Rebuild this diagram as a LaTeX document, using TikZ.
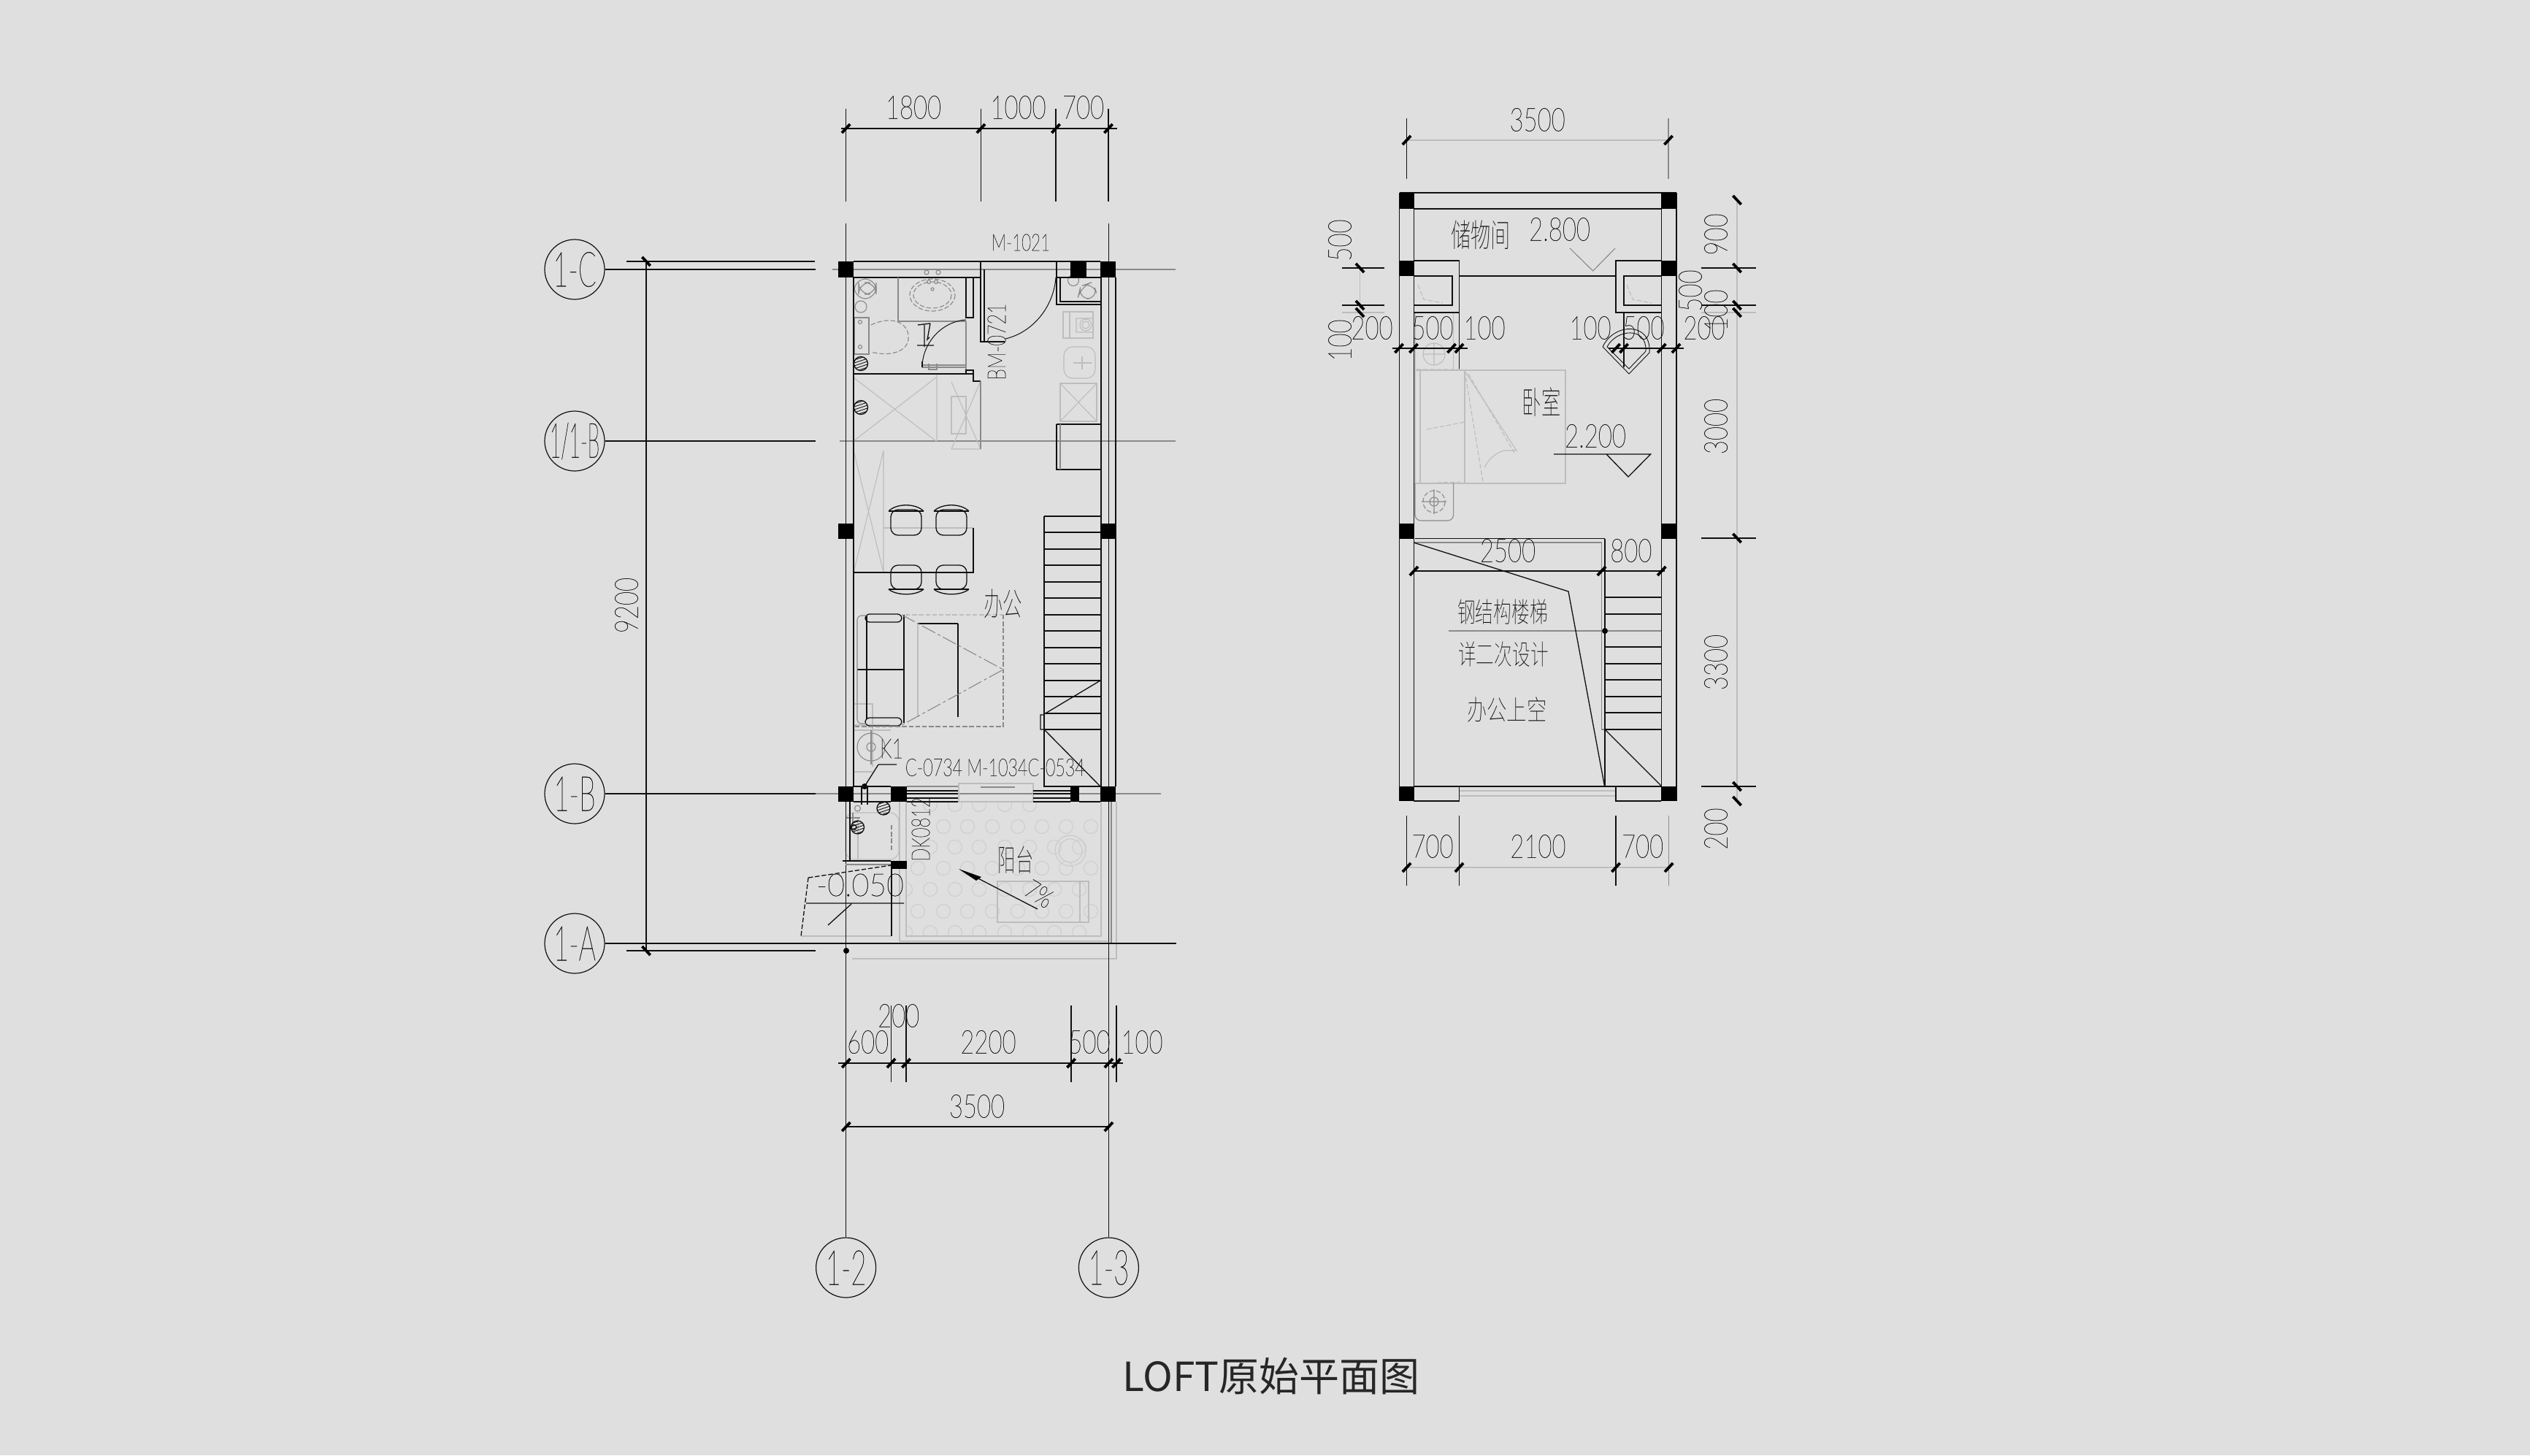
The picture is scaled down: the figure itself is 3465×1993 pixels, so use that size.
\documentclass[tikz,border=0pt]{standalone}
\usepackage{fontspec}
\usepackage{graphicx}
\IfFontExistsTF{Lato Thin}{\newfontfamily\cad[FakeBold=0.5]{Lato Thin}}{\newfontfamily\cad{Lato Light}}
\IfFontExistsTF{Noto Sans CJK SC Thin}{\newfontfamily\cjk{Noto Sans CJK SC Thin}}{\IfFontExistsTF{Noto Sans CJK SC Light}{\newfontfamily\cjk{Noto Sans CJK SC Light}}{\newfontfamily\cjk{Noto Sans CJK SC}}}
\newfontfamily\ttl{Noto Sans CJK SC}
\definecolor{bgc}{HTML}{DFDFDF}
\definecolor{ink}{HTML}{101010}
\definecolor{mid}{HTML}{8A8A8A}
\definecolor{pale}{HTML}{BDBDBD}
\definecolor{faint}{HTML}{CFCFCF}
\tikzset{
  ln/.style={draw=ink,line width=.33pt},
  wl/.style={draw=ink,line width=.5pt},
  gr/.style={draw=mid,line width=.28pt},
  pl/.style={draw=pale,line width=.28pt},
  fa/.style={draw=faint,line width=.3pt},
  fine/.style={dash pattern=on 1.6pt off .7pt},
  col/.style={fill=black,draw=none},
  tickline/.style={draw=black,line width=.95pt},
  bub/.style={circle,draw=ink,line width=.3pt,minimum size=20.5pt,inner sep=0pt},
  txt/.style={inner sep=0pt,text=ink,font=\cad},
}
\newcounter{tn}
\newcommand{\lab}[6]{\stepcounter{tn}\node[txt,rotate=#1] (t\thetn) at (#2,#3) {\fontsize{#4}{#4}\selectfont\scalebox{#5}[1]{#6}};}
\newcommand{\dm}[3]{\lab{0}{#1}{#2}{11.1}{.74}{#3}}
\newcommand{\dv}[3]{\lab{90}{#1}{#2}{11.1}{.74}{#3}}
\newcommand{\tkh}[2]{\draw[tickline] ([shift={(-5.6,6)}]#1,#2) -- ([shift={(5.6,-6)}]#1,#2);}
\newcommand{\tkv}[2]{\draw[tickline] ([shift={(-5.6,-6)}]#1,#2) -- ([shift={(5.6,6)}]#1,#2);}
\newcommand{\colm}[4]{\fill[col] (#1,#2) rectangle (#3,#4);}
\newcommand{\hatchc}[3]{\begin{scope}\clip (#1,#2) circle (#3);\foreach \d in {-8,-4,0,4,8}{\draw[draw=ink,line width=.22pt] ([shift={(-12,\d+4)}]#1,#2) -- ([shift={(12,\d-4)}]#1,#2);}\end{scope}\draw[ln] (#1,#2) circle (#3);}
\newcommand{\chairup}[2]{\draw[ln,rounded corners=2.5pt] (#1,#2) rectangle ++(42,35);\draw[ln] (#1-3,#2+2) .. controls (#1+8,#2-9) and (#1+34,#2-9) .. (#1+45,#2+2);\draw[ln] (#1-3,#2+2)--(#1+45,#2+2);}
\newcommand{\chairdn}[2]{\draw[ln,rounded corners=2.5pt] (#1,#2) rectangle ++(42,33);\draw[ln] (#1-3,#2+33) .. controls (#1+8,#2+42) and (#1+34,#2+42) .. (#1+45,#2+33);\draw[ln] (#1-3,#2+33)--(#1+45,#2+33);}
\begin{document}
\begin{tikzpicture}[x=.25pt,y=-.25pt]
\useasboundingbox (0,0) rectangle (3465,1993);
\fill[bgc] (0,0) rectangle (3465,1993);

%% --------- balcony pale floor ----------
\begin{scope}
\clip (1241,1098) rectangle (1508,1282);
\foreach \yy in {1160,1218,1277}{\foreach \xx in {1274,1308,1341,1376,1410,1444,1478}{\draw[fa] (\xx,\yy) circle (9.5);}}
\foreach \xx in {1274,1308,1341,1376,1410}{\draw[fa] (\xx,1102) circle (9.5);}
\foreach \xx in {1240}{\draw[fa] (\xx,1218) circle (9.5);\draw[fa] (\xx,1277) circle (9.5);}
\foreach \yy in {1189,1248}{\foreach \xx in {1257,1292,1325,1359,1394,1427,1460,1494}{\draw[fa] (\xx,\yy) circle (9.5);}}
\foreach \xx in {1292,1325,1359,1394,1427,1460,1494}{\draw[fa] (\xx,1132) circle (9.5);}
\end{scope}
\draw[pl] (1232,1098) -- (1232,1289) -- (1517,1289);
\draw[pl] (1241,1098) -- (1241,1282) -- (1508,1282) -- (1508,1098);
\draw[pl] (1167,1313) -- (1529,1313) -- (1529,1098);
\draw[pl] (1097,1282) -- (1221,1282);
\draw[faint,line width=.4pt] (1466,1165) circle (21) (1466,1165) circle (16);
\draw[pl] (1366,1207) rectangle (1491,1263) (1479,1207) -- (1479,1263);
\draw[gr] (1522,1098) -- (1522,1293);
%% balcony laundry
\draw[pl,rounded corners=3pt] (1158,1113) rectangle (1231,1177);
\draw[pl] (1175,1120) -- (1175,1177);
\draw[gr,fine] (1221,1130) -- (1221,1165);
\draw[gr] (1159,1120) -- (1178,1120) (1168,1113) -- (1168,1130);
\draw[gr] (1174.5,1107) circle (4);

%% --------- left plan grid lines -------------
\node[bub] (bC) at (787,369) {};
\node[bub] (bAB) at (787,604) {};
\node[bub] (bB) at (787,1087) {};
\node[bub] (bA) at (787,1292) {};
\node[bub] (b2) at (1158.6,1736) {};
\node[bub] (b3) at (1518.4,1736) {};
\coordinate (eC) at (1117,369); \coordinate (eAB) at (1117,604); \coordinate (eB) at (1117,1087);
\draw[ln] (bC) -- (eC); \draw[ln] (bAB) -- (eAB); \draw[ln] (bB) -- (eB);
\draw[ln] (bA) -- (1611,1292);
\draw[gr] (1140,369) -- (1610,369);
\draw[gr] (1150,604) -- (1610,604);
\draw[gr] (1117,1087) -- (1590,1087);
\draw[ln] (b2) -- (1158.6,306);
\draw[ln] (b3) -- (1518.4,306);

%% pale furniture left plan (kitchen etc.)
\draw[pl] (1456,427) rectangle (1497,463) (1465,427) -- (1465,463);
\draw[pl] (1474,436) rectangle (1497,455) (1487,445) circle (5) (1487,445) circle (8);
\draw[pl,rounded corners=3pt] (1457,475) rectangle (1500,518);
\draw[pl] (1470,497) -- (1495,497) (1482,488) -- (1482,506);
\draw[pl] (1452,525) rectangle (1502,577);
\draw[pl] (1452,525) -- (1502,577) (1502,525) -- (1452,577);
\draw[pl] (1169,517) -- (1282,604) (1282,517) -- (1169,604) (1283,512) -- (1283,604);
\draw[pl] (1169,617) -- (1210,784) (1210,617) -- (1169,784) (1210,617) -- (1210,784);
\draw[pl] (1210,723) -- (1333,723);
\draw[pl] (1303,523) -- (1343,615) (1343,522) -- (1303,615) (1303,615) -- (1343,615);
\draw[pl] (1303,543) rectangle (1323,594);
\draw[pl] (1257,854) -- (1257,982);
\draw[pl] (1169,964) -- (1195,964) -- (1195,1050) (1169,1000) -- (1220,1000) (1169,1057) -- (1195,1057);
\draw[pl] (1169,993) -- (1219,993);
\draw[gr,rounded corners=4pt] (1170,382) rectangle (1200,409);
\draw[gr,rounded corners=4pt] (1176,387) -- (1176,403) -- (1200,403) -- (1200,387) -- cycle;
\draw[gr] (1179,420) circle (8);
\draw[gr] (1170,435) rectangle (1190,485);
\draw[gr] (1178,441) circle (2.5) (1178,475) circle (2.5);
\draw[gr,fine] (1193,445) .. controls (1225,430) and (1245,445) .. (1244,462) .. controls (1245,478) and (1225,490) .. (1193,482);
\draw[gr,fine] (1277,404) ellipse (31 and 22) (1277,404) ellipse (26 and 18);
\draw[gr] (1272,386) circle (2.5) (1282,386) circle (2.5) (1277,396) circle (2);
\draw[gr] (1269,373) circle (3) (1285,373) circle (3);
\draw[gr] (1470,384) circle (7.5);
\draw[gr,rounded corners=4pt] (1476,409) -- (1480,392) -- (1497,386) -- (1504,409) -- cycle;
%% --------- left plan walls --------------------
\draw[wl] (1169,380) -- (1169,1077);
\draw[wl] (1507.5,380) -- (1507.5,1077);
\draw[ln] (1528,380) -- (1528,1077);
\draw[wl] (1169,358) -- (1343,358) -- (1343,380) -- (1169,380);
\draw[ln] (1343,358) -- (1447,358) -- (1447,380);
\draw[ln] (1447,358) -- (1507,358) (1447,380) -- (1507,380);
\draw[wl] (1447,380) -- (1447,417) -- (1507,417);
\draw[ln] (1452,380) -- (1452,413) -- (1507,413);
\draw[ln] (1343,380) -- (1343,468) -- (1376,468) (1348,369) -- (1348,468);
\draw[draw=ink,line width=.25pt] (1377,464) .. controls (1415,455) and (1443,420) .. (1446,380);
\draw[gr] (1230,380) -- (1230,440) -- (1323,440);
\draw[wl] (1323,380) -- (1323,435) -- (1333,435) -- (1333,380);
\draw[gr] (1323,440) -- (1323,507);
\draw[draw=ink,line width=.25pt] (1323,438) .. controls (1290,440) and (1263,470) .. (1263,503);
\draw[gr] (1263,503) -- (1323,503) (1263,500) -- (1323,500);
\draw[ln] (1263,503) -- (1263,495);
\draw[ln] (1257,445) -- (1274,443) (1256,473) -- (1279,473) (1266,445) -- (1266,475) (1274,443) -- (1270,465) -- (1273,462);
\draw[gr] (1272,498) -- (1272,506) -- (1283,506) -- (1283,498);
\draw[ln] (1169,512) -- (1333,512);
\draw[wl] (1323,512) -- (1323,507) -- (1333,507) -- (1333,522) -- (1343,522);
\draw[gr] (1343,522) -- (1343,615);
\draw[ln] (1447,581) -- (1507,581) (1447,581) -- (1447,643) -- (1507,643);
\draw[gr] (1452,581) -- (1452,643);
%% dining
\draw[ln] (1169,784) -- (1333,784) -- (1333,723);
\chairup{1220}{698} \chairup{1282}{698}
\chairdn{1220}{774} \chairdn{1282}{774}
%% stairs
\draw[ln] (1430,707) -- (1507,707) (1430,707) -- (1430,1077) -- (1507,1077);
\foreach \yy in {729,752,774,797,819,842,864,887,909,932,954,977,999}{\draw[ln] (1430,\yy) -- (1507,\yy);}
\draw[ln] (1430,979) -- (1425,979) -- (1425,999) -- (1430,999) -- (1507,1077);
\draw[ln] (1430,978) -- (1507,932);
%% sofa
\draw[ln] (1187,842) -- (1187,985) (1238,842) -- (1238,990) (1174,917) -- (1238,917);
\draw[ln,rounded corners=1.5pt] (1185,841) rectangle (1235,852);
\draw[ln,rounded corners=1.5pt] (1185,983) rectangle (1235,994);
\draw[gr,rounded corners=1.5pt] (1187,843) -- (1174,843) -- (1174,991) -- (1187,991);
\draw[ln] (1257,854) -- (1312,854);
\draw[ln] (1312,854) -- (1312,982);
\draw[gr,dash pattern=on 5pt off 1pt on 1pt off 1pt] (1235,842) -- (1374,917) -- (1235,993);
\draw[pl,fine] (1240,842) -- (1374,842);
\draw[gr,fine] (1374,842) -- (1374,995) -- (1170,995);
%% air-con
\draw[gr] (1193,1023) circle (19) (1193,1023) circle (6);
\draw[gr] (1193,1000) -- (1193,1047);
\draw[ln] (1203,1047) -- (1228,1047) (1203,1047) -- (1184,1077);
\fill[black] (1184,1077) circle (4);
%% bottom wall
\draw[wl] (1169,1077) -- (1220,1077) (1169,1098) -- (1220,1098);
\draw[gr] (1242,1077) -- (1313,1077);
\draw[ln] (1242,1083) -- (1313,1083) (1242,1087) -- (1313,1087) (1242,1093) -- (1313,1093) (1242,1098) -- (1313,1098);
\draw[pl] (1313,1073) rectangle (1415,1098);
\draw[gr] (1343,1078) -- (1390,1078);
\draw[ln] (1415,1083) -- (1466,1083) (1415,1087) -- (1466,1087) (1415,1093) -- (1466,1093) (1415,1098) -- (1466,1098);
\draw[ln] (1478,1077) -- (1507,1077) (1478,1098) -- (1507,1098);
\draw[ln] (1180,1077) -- (1180,1102) (1188,1077) -- (1188,1102);
%% balcony solid
\draw[wl] (1164,1098) -- (1164,1179);
\draw[wl] (1153.5,1179) -- (1220,1179);
\draw[gr] (1158,1184) -- (1220,1184);
\draw[wl] (1221,1190) -- (1221,1282);
\draw[ln,fine] (1107,1202) -- (1220,1185);
\draw[ln,fine] (1107,1202) -- (1097,1282);
\draw[ln] (1104,1237) -- (1238,1237) (1166,1238) -- (1134,1267);
\hatchc{1210}{1107}{9}
\hatchc{1174.5}{1133}{9}
\draw[ln] (1169.5,1133) circle (3.5);
\hatchc{1179}{498}{9.5}
\hatchc{1179}{558}{9.5}
%% arrow
\draw[ln] (1421,1245) -- (1330,1198);
\fill[black] (1313,1190) -- (1344,1201) -- (1337,1206) -- cycle;
\fill[black] (1159,1302) circle (4);
%% columns
\colm{1148}{358}{1169}{380}
\colm{1507}{358}{1528}{380}
\colm{1466}{358}{1488}{380}
\colm{1148}{717}{1169}{738}
\colm{1507}{717}{1528}{738}
\colm{1148}{1077}{1169}{1098}
\colm{1220}{1077}{1242}{1098}
\colm{1466}{1077}{1478}{1098}
\colm{1507}{1077}{1528}{1098}
\colm{1220}{1179}{1242}{1190}
%% left dims
\draw[ln] (858,358) -- (1116,358);
\draw[ln] (858,1302) -- (1117,1302);
\draw[ln] (885,358) -- (885,1302);
\tkv{885}{358} \tkv{885}{1302}
\dv{858}{829}{9200}
%% top dims
\draw[ln] (1152,176) -- (1530,176);
\draw[ln] (1158.6,149) -- (1158.6,276) (1343.4,149) -- (1343.4,276) (1446,149) -- (1446,276) (1518,149) -- (1518,276);
\tkh{1158.6}{176} \tkh{1343.4}{176} \tkh{1446}{176} \tkh{1518}{176}
\dm{1251}{147}{1800} \dm{1394.5}{147}{1000} \dm{1483.5}{147}{700}
%% bottom dims
\draw[ln] (1148,1456) -- (1538,1456);
\draw[ln] (1220.5,1377) -- (1220.5,1482) (1241,1377) -- (1241,1482) (1467,1377) -- (1467,1482) (1529,1377) -- (1529,1482);
\tkh{1158.8}{1456} \tkh{1220.5}{1456} \tkh{1241}{1456} \tkh{1467}{1456} \tkh{1518.4}{1456} \tkh{1529}{1456}
\dm{1188.6}{1427}{600} \dm{1230.7}{1391}{200} \dm{1353.5}{1427}{2200} \dm{1492}{1427}{500} \dm{1564}{1427}{100}
\draw[ln] (1158.8,1543) -- (1518.4,1543);
\tkh{1158.8}{1543} \tkh{1518.4}{1543}
\dm{1338}{1515}{3500}
%% left labels
\lab{0}{787}{369}{16.6}{.55}{1-C}
\lab{0}{787}{604}{16.6}{.40}{1/1-B}
\lab{0}{787}{1087}{16.6}{.55}{1-B}
\lab{0}{787}{1292}{16.6}{.55}{1-A}
\lab{0}{1158.6}{1736}{16.6}{.55}{1-2}
\lab{0}{1518.4}{1736}{16.6}{.55}{1-3}
\lab{0}{1398}{332}{8}{.70}{M-1021}
\lab{90}{1365}{468}{8.7}{.72}{BM-0721}
\lab{0}{1221}{1025}{9.4}{.72}{K1}
\lab{0}{1279}{1051}{8.3}{.70}{C-0734}
\lab{0}{1405}{1051}{8.3}{.70}{M-1034C-0534}
\lab{90}{1261}{1136}{8.7}{.68}{DK0812}
\lab{0}{1178}{1212}{10.8}{.95}{-0.050}
\lab{0}{1373.5}{827}{11}{.6}{\cjk 办公}
\lab{0}{1391}{1178}{10.5}{.58}{\cjk 阳台}
\lab{-32}{1423}{1224}{9}{.8}{7\%}

%% --------- right plan ---------------------
%% pale
\draw[pl] (1938,507) rectangle (2144,662);
\draw[pl] (1945,507) -- (1945,662) (2006,507) -- (2006,662);
\draw[pl] (1938,428) -- (1938,507) (1990.6,428) -- (1990.6,507);
\draw[gr,rounded corners=2pt] (1938,662) -- (1938,713) -- (1990.6,713) -- (1990.6,662);
\draw[pl] (2006,508) -- (2077,617) -- (2060,617) .. controls (2048,620) and (2038,630) .. (2033,640);
\draw[pl,fine] (2006,508) -- (2031,660) (2011,512) -- (2074,620);
\draw[pl,fine] (1954,588) -- (2006,578);
\draw[pl,fine] (1940,506) -- (2000,506) (1940,662) -- (2000,660);
\draw[pl] (1964,485) circle (15) (1964,470) -- (1964,500) (1949,485) -- (1979,485);
\draw[gr,fine] (1964,687) circle (15);
\draw[gr] (1964,670) -- (1964,704) (1947,687) -- (1981,687) (1964,687) circle (6);
\draw[pl,fine] (1942,390) -- (1950,410) -- (1976,415);
\draw[pl,fine] (2228,390) -- (2236,410) -- (2262,415);
\draw[pl] (1862.5,367) -- (1862.5,428);
\draw[pl] (2379,274) -- (2379,1097);
\draw[pl] (1837.6,428) -- (1896,428);
\draw[pl] (2330,428) -- (2405,428);
\draw[pl] (1926.5,192) -- (2285,192);
\draw[gr] (2285,162) -- (2285,245);
\draw[pl] (1926.5,1188) -- (2285,1188);
\draw[gr] (2285.6,1117) -- (2285.6,1213);
\draw[gr] (1936,743) -- (2193.4,743) -- (2193.4,999) -- (2198,999);
\draw[gr] (1984,864) -- (2275,864);
\draw[pl] (1998.5,1083) -- (2213,1083) (1998.5,1090) -- (2213,1090);
%% walls
\draw[ln] (1916.6,264) -- (1916.6,1097) (1936.4,264) -- (1936.4,1097);
\draw[ln] (2275.3,264) -- (2275.3,1097) (2296,264) -- (2296,1097);
\draw[wl] (1916.6,264) -- (2296,264);
\draw[wl] (1936,285.7) -- (2275,285.7);
\draw[ln] (1936,357) -- (1998.5,357) -- (1998.5,505) (1936,428) -- (1998.5,428);
\draw[wl] (1998.5,378) -- (2213,378);
\draw[ln] (2275,357) -- (2213,357) -- (2213,428) -- (2275,428);
\draw[wl] (1936,378) -- (1988.6,378) -- (1988.6,418) -- (1936,418);
\draw[wl] (2275,378) -- (2224,378) -- (2224,418) -- (2275,418);
\draw[ln] (2224,428) -- (2224,503);
\draw[gr] (2150,340) -- (2181.6,371) -- (2212,340);
%% corner chair
\draw[draw=ink,line width=.22pt] (2195,475) -- (2231,512) -- (2259,483);
\draw[draw=ink,line width=.22pt] (2195,475) .. controls (2210,442) and (2262,440) .. (2259,483);
\draw[draw=ink,line width=.22pt] (2201,475) .. controls (2214,450) and (2256,447) .. (2254,481) -- (2231,505) -- cycle;
%% level 2.2
\draw[ln] (2128,622) -- (2260.6,622) -- (2230,653) -- (2200,622);
%% stair void
\draw[ln] (1938,737.7) -- (2198,737.7);
\draw[ln] (2198,737.7) -- (2198,1077);
\draw[ln] (1936,743) -- (2148,810) -- (2197.4,1076);
\foreach \yy in {818,841,886,909,931,954,976,999}{\draw[ln] (2198,\yy) -- (2275,\yy);}
\fill[black] (2198,864) circle (4);
\draw[ln] (2198,999) -- (2275,1076);
\draw[wl] (1936,1077) -- (2275,1077);
\draw[ln] (1936,1097) -- (1998.5,1097) -- (1998.5,1077);
\draw[ln] (2275,1097) -- (2213,1097) -- (2213,1077);
%% cols right
\colm{1916.6}{264}{1936.4}{285.7}
\colm{2275.3}{264}{2296}{285.7}
\colm{1916.6}{357}{1936.4}{378}
\colm{2275.3}{357}{2296}{378}
\colm{1916.6}{717}{1936.4}{738}
\colm{2275.3}{717}{2296}{738}
\colm{1916.6}{1077}{1936.4}{1097}
\colm{2275.3}{1077}{2296}{1097}
%% dims right plan
\draw[ln] (1926.5,162) -- (1926.5,245);
\tkh{1926.5}{192} \tkh{2285}{192}
\dm{2105.6}{164}{3500}
\draw[ln] (1907,477) -- (2010,477) (2203,477) -- (2306,477);
\foreach \xx in {1916,1936,1988,1998.5,2213,2224,2275.7,2295.5}{\tkh{\xx}{477}}
\dm{1879}{449}{200} \dm{1962}{449}{500} \dm{2033}{449}{100}
\dm{2178}{449}{100} \dm{2251}{449}{500} \dm{2334}{449}{200}
\draw[ln] (1837.6,367) -- (1896,367) (1837.6,418) -- (1896,418);
\tkv{1862.5}{367} \tkv{1862.5}{418} \tkv{1862.5}{428}
\dv{1835}{329}{500} \dv{1835}{466}{100}
\draw[ln] (2330,367) -- (2405,367) (2330,418) -- (2405,418) (2330,737) -- (2405,737) (2330,1077) -- (2405,1077);
\tkv{2379}{274} \tkv{2379}{367} \tkv{2379}{418} \tkv{2379}{428} \tkv{2379}{737} \tkv{2379}{1077} \tkv{2379}{1097}
\dv{2350}{321}{900} \dv{2315}{398}{500} \dv{2350}{425}{100} \dv{2350}{584}{3000} \dv{2350}{907}{3300} \dv{2350}{1135}{200}
\draw[ln] (1936,782) -- (2280,782);
\tkh{1936.4}{782} \tkh{2193.4}{782} \tkh{2275.7}{782}
\dm{2065}{754}{2500} \dm{2233.8}{754}{800}
\draw[ln] (1926.5,1117) -- (1926.5,1213) (1998.5,1117) -- (1998.5,1213) (2213,1117) -- (2213,1213);
\tkh{1926.5}{1188} \tkh{1998.5}{1188} \tkh{2213}{1188} \tkh{2285.6}{1188}
\dm{1962}{1159}{700} \dm{2106.4}{1159}{2100} \dm{2249.6}{1159}{700}
\dm{2136}{314}{2.800} \dm{2185}{597}{2.200}
\lab{0}{2028}{322}{11}{.62}{\cjk 储物间}
\lab{0}{2111}{551}{11}{.6}{\cjk 卧室}
\lab{0}{2058}{838}{9.5}{.65}{\cjk 钢结构楼梯}
\lab{0}{2059}{896}{9.5}{.65}{\cjk 详二次设计}
\lab{0}{2063.7}{972}{9.5}{.72}{\cjk 办公上空}
%% title
\node[inner sep=0pt,text=black!85,font=\ttl\fontsize{13.75}{13.75}\selectfont] (title) at (1741,1885) {LOFT原始平面图};
\end{tikzpicture}
\end{document}
